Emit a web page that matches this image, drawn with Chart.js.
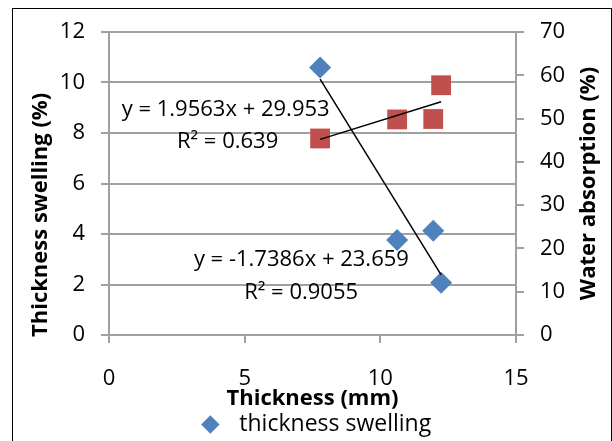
<!DOCTYPE html>
<html>
<head>
<meta charset="utf-8">
<script src="https://cdn.jsdelivr.net/npm/chart.js@4"></script>
<style>
  html, body { margin: 0; padding: 0; background: #fff; }
  .wrap { position: relative; width: 612px; height: 441px; }
  .frame { position: absolute; left: 12px; top: 8px; width: 600px; height: 440px;
           border: 1.5px solid #000; box-sizing: border-box; pointer-events: none; }
</style>
</head>
<body>
<div class="wrap">
  <canvas id="chart"></canvas>
  <div class="frame"></div>
</div>
<script>
const thickness = [7.78, 10.62, 11.95, 12.24];
const swelling = [10.59, 3.76, 4.13, 2.07];
const absorption = [45.4, 49.8, 49.9, 57.7];

// trendline end points
const trendX = [7.78, 12.24];
const swellingTrend = [10.13, 2.38];
const absorptionTrend = [45.2, 53.9];

const equations = [
  { text: 'y = 1.9563x + 29.953', x: 4.3, y: 8.91 },
  { text: 'R² = 0.639', x: 4.37, y: 7.64 },
  { text: 'y = -1.7386x + 23.659', x: 7.09, y: 2.97 },
  { text: 'R² = 0.9055', x: 7.08, y: 1.66 },
];

const FONT = 'Open Sans';
const gridGray = '#a0a0a0';

const toPoints = (xs, ys) => xs.map((x, i) => ({ x: x, y: ys[i] }));

const extraText = {
  id: 'extraText',
  afterLayout(chart) {
    // legend sits a little right of centre and lower in the original
    chart.legend.left += 9;
    chart.legend.right += 9;
    chart.legend.top += 5;
    chart.legend.bottom += 5;
  },
  afterDraw(chart) {
    const { ctx, scales } = chart;
    ctx.save();
    ctx.fillStyle = '#000';
    ctx.font = '22px "' + FONT + '"';
    ctx.textAlign = 'center';
    ctx.textBaseline = 'middle';
    equations.forEach(eq => {
      ctx.fillText(eq.text, scales.x.getPixelForValue(eq.x), scales.y.getPixelForValue(eq.y));
    });
    // right axis title reads bottom to top
    ctx.font = 'bold 22px "' + FONT + '"';
    ctx.translate(589, (chart.chartArea.top + chart.chartArea.bottom) / 2);
    ctx.rotate(-Math.PI / 2);
    ctx.fillText('Water absorption (%)', 0, 0);
    ctx.restore();
  }
};

new Chart(document.getElementById('chart'), {
  type: 'scatter',
  data: {
    datasets: [
      {
        label: ' thickness swelling',
        data: toPoints(thickness, swelling),
        yAxisID: 'y',
        pointStyle: 'rectRot',
        pointRadius: 11,
        backgroundColor: '#4F81BD',
        borderColor: '#4F81BD',
        borderWidth: 0,
        order: 1,
      },
      {
        label: 'water absorption',
        data: toPoints(thickness, absorption),
        yAxisID: 'y1',
        pointStyle: 'rect',
        pointRadius: 14,
        backgroundColor: '#C0504D',
        borderColor: '#C0504D',
        borderWidth: 0,
        order: 1,
      },
      {
        label: 'swelling trend',
        data: toPoints(trendX, swellingTrend),
        yAxisID: 'y',
        showLine: true,
        pointRadius: 0,
        borderColor: '#000',
        borderWidth: 1.5,
        order: 0,
      },
      {
        label: 'absorption trend',
        data: toPoints(trendX, absorptionTrend),
        yAxisID: 'y1',
        showLine: true,
        pointRadius: 0,
        borderColor: '#000',
        borderWidth: 1.5,
        order: 0,
      },
    ],
  },
  options: {
    responsive: true,
    maintainAspectRatio: false,
    animation: false,
    layout: { padding: { top: 32, left: 0, right: 0, bottom: 0 } },
    plugins: {
      tooltip: { enabled: false },
      legend: {
        position: 'bottom',
        labels: {
          filter: item => item.datasetIndex === 0,
          usePointStyle: true,
          boxHeight: 13,
          color: '#000',
          padding: 1,
          font: { family: FONT, size: 23 },
        },
      },
    },
    scales: {
      x: {
        type: 'linear',
        min: 0,
        max: 15,
        ticks: { stepSize: 5, padding: 23, color: '#000', font: { family: FONT, size: 22 } },
        grid: { drawOnChartArea: false, tickLength: 8, color: gridGray, lineWidth: 2 },
        border: { color: gridGray, width: 2 },
        title: {
          display: true,
          text: 'Thickness (mm)',
          color: '#000',
          font: { family: FONT, size: 22, weight: 'bold' },
          padding: { top: 0, bottom: -5 },
        },
        afterFit: scale => { scale.height = 441 - 335 - scale.chart.legend.height; },
      },
      y: {
        position: 'left',
        min: 0,
        max: 12,
        ticks: { stepSize: 2, padding: 16, color: '#000', font: { family: FONT, size: 22 } },
        grid: { tickLength: 8, color: gridGray, lineWidth: 2 },
        border: { color: gridGray, width: 2 },
        title: {
          display: true,
          text: 'Thickness swelling (%)           ',
          color: '#000',
          font: { family: FONT, size: 22, weight: 'bold' },
          padding: { top: 28, bottom: 0 },
        },
        afterFit: scale => { scale.width = 109; },
      },
      y1: {
        position: 'right',
        min: 0,
        max: 70,
        ticks: { stepSize: 10, padding: 16, color: '#000', font: { family: FONT, size: 22 } },
        grid: { drawOnChartArea: false, tickLength: 8, color: gridGray, lineWidth: 2 },
        border: { color: gridGray, width: 2 },
        afterFit: scale => { scale.width = 96; },
      },
    },
  },
  plugins: [extraText],
});
</script>
</body>
</html>
